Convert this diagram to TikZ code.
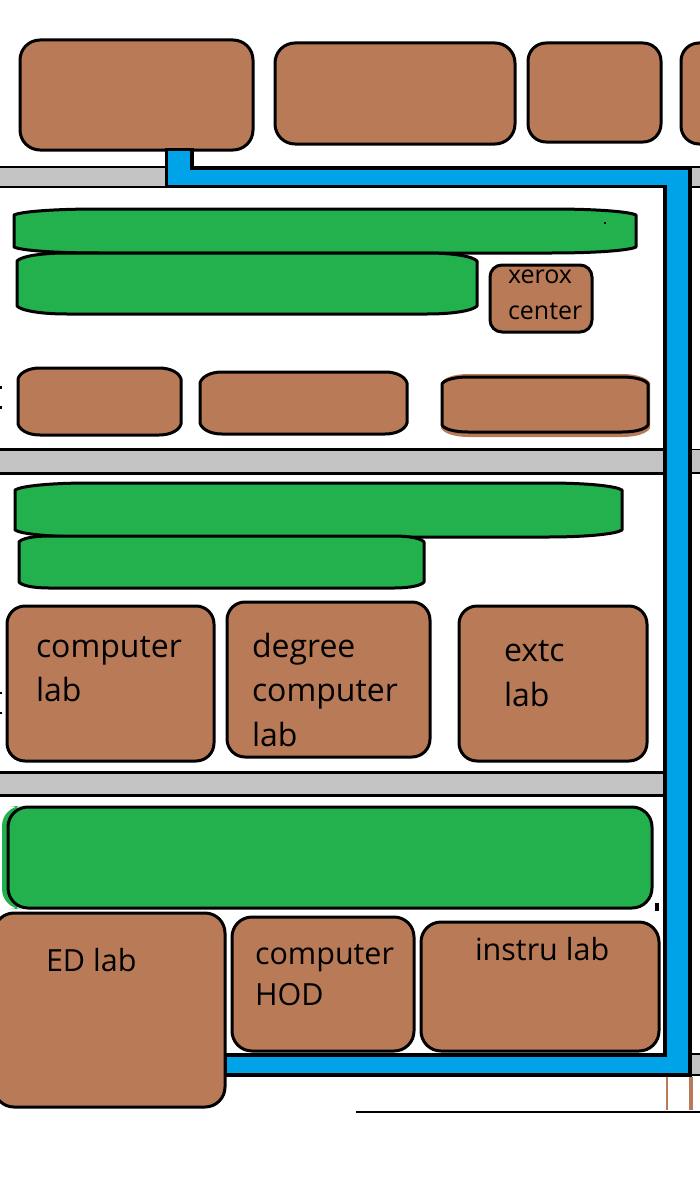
\documentclass[tikz,border=0pt]{standalone}
\usepackage{fontspec}
\setmainfont{Open Sans}
\definecolor{roomb}{RGB}{185,122,87}
\definecolor{roomg}{RGB}{34,177,76}
\definecolor{pipe}{RGB}{0,162,232}
\definecolor{band}{RGB}{195,195,195}
\tikzset{
  x=1pt,y=-1pt,
  outline/.style={draw=black,line width=3pt,line join=round},
  brownroom/.style={outline,fill=roomb,rounded corners=#1},
  brownroom/.default=20pt,
  greenroom/.style={outline,fill=roomg,rounded corners=#1},
  greenroom/.default=20pt,
  bandthin/.style={fill=band,draw=black,line width=2pt},
  bandthick/.style={fill=band,draw=black,line width=3pt},
  bandedge/.style={draw=black,line width=1.5pt},
  label/.style={anchor=base west,inner sep=0pt,outer sep=0pt,font=\fontsize{32}{32}\selectfont,text=black},
  smalllabel/.style={label,font=\fontsize{25}{25}\selectfont},
  midlabel/.style={label,font=\fontsize{30.5}{30.5}\selectfont},
}
% barrel: x1 y1 x2 y2, style, rx, dy
\newcommand{\barrel}[7]{%
  \path[#5] (#1+#6,#2) -- (#3-#6,#2)
    .. controls (#3-#6*0.45,#2) and (#3-#6*0.08,#2+#7*0.45) .. (#3,#2+#7)
    -- (#3,#4-#7)
    .. controls (#3-#6*0.08,#4-#7*0.45) and (#3-#6*0.45,#4) .. (#3-#6,#4)
    -- (#1+#6,#4)
    .. controls (#1+#6*0.45,#4) and (#1+#6*0.08,#4-#7*0.45) .. (#1,#4-#7)
    -- (#1,#2+#7)
    .. controls (#1+#6*0.08,#2+#7*0.45) and (#1+#6*0.45,#2) .. (#1+#6,#2) -- cycle;}
% grey stub to the right of the pipe
\newcommand{\stub}[2]{%
  \fill[band] (690,#1) rectangle (705,#2);
  \draw[bandedge] (690,#1) -- (705,#1);
  \draw[bandedge] (690,#2) -- (705,#2);}
\begin{document}
\begin{tikzpicture}
\useasboundingbox (0,0) rectangle (700,1204);
\fill[white] (0,0) rectangle (700,1204);
\begin{scope}
\clip (0,0) rectangle (700,1204);
% grey corridors
\draw[bandthin] (-5,167) rectangle (167,187);
\stub{167}{187}
\draw[bandthick] (-5,449.5) rectangle (665,473);
\stub{449.5}{473}
\draw[bandthick] (-5,772) rectangle (667,795.5);
\stub{1054}{1075}
% top row
\draw[brownroom] (20,40) rectangle (253,150);
\draw[brownroom] (275,43) rectangle (515,144);
\draw[brownroom=18pt] (528,43) rectangle (661,142);
\draw[brownroom=18pt] (681,43) rectangle (730,144);
% blue pipe
\draw[fill=pipe,draw=black,line width=3.5pt,line join=miter] (166.5,149.5) -- (192,149.5) -- (192,168) -- (690,168) -- (690,1075)
  -- (225,1075) -- (225,1055) -- (665,1055) -- (665,186.5) -- (166.5,186.5) -- cycle;
% first block
\barrel{14}{209}{636}{253}{outline,fill=roomg}{85}{6}
\barrel{17}{253}{477}{314}{outline,fill=roomg}{50}{8}
\fill[black] (604,222) rectangle (606,224);
\draw[brownroom=12pt] (490,265) rectangle (592,332);
\barrel{18}{368}{181}{435}{outline,fill=roomb}{22}{11}
\barrel{200}{372}{407}{434}{outline,fill=roomb}{22}{11}
\barrel{441}{374}{650}{437}{fill=roomb}{28}{9}
\barrel{442}{377}{648}{432}{outline,fill=roomb}{26}{7}
% second block
\barrel{15}{483}{622}{537}{outline,fill=roomg}{75}{7}
\barrel{19}{536}{424}{588}{outline,fill=roomg}{30}{6}
\draw[brownroom=18pt] (7,606) rectangle (214,761);
\draw[brownroom=18pt] (227,602) rectangle (430,757);
\draw[brownroom=18pt] (459,606) rectangle (647,761);
% third block
\fill[roomg,rounded corners=20pt] (2,806) rectangle (30,909);
\draw[greenroom] (8,807) rectangle (652,908);
\draw[brownroom] (-6,913) rectangle (225,1107);
\draw[brownroom] (232,917) rectangle (414,1051);
\draw[brownroom] (421,922) rectangle (659,1051);
% bottom stubs and small marks
\draw[black,line width=2pt] (356,1111.5) -- (705,1111.5);
\draw[roomb,line width=2pt] (667,1077) -- (667,1110);
\draw[roomb,line width=4pt] (691,1077) -- (691,1110);
\fill[black] (655,903) rectangle (659,911);
\fill[black] (0,386) rectangle (2,389);
\fill[black] (0,406) rectangle (2,409);
\fill[black] (0,692) rectangle (2,694);
\fill[black] (0,712) rectangle (2,714);
\end{scope}
% labels
\node[smalllabel] (xa) at (508,283) {xerox};
\node[smalllabel] (xb) at (508,319) {center};
\node[label] (ca) at (36,657.5) {computer};
\node[label] (cb) at (36,701.5) {lab};
\node[label] (da) at (252,657.5) {degree};
\node[label] (db) at (252,701.5) {computer};
\node[label] (dc) at (252,746.5) {lab};
\node[label] (ea) at (504,661.5) {extc};
\node[label] (eb) at (504,706.5) {lab};
\node[midlabel] (ed) at (46,971.5) {ED lab};
\node[midlabel] (ha) at (255,964) {computer};
\node[midlabel] (hb) at (255,1005) {HOD};
\node[midlabel] (il) at (475,960) {instru lab};
\end{tikzpicture}
\end{document}
